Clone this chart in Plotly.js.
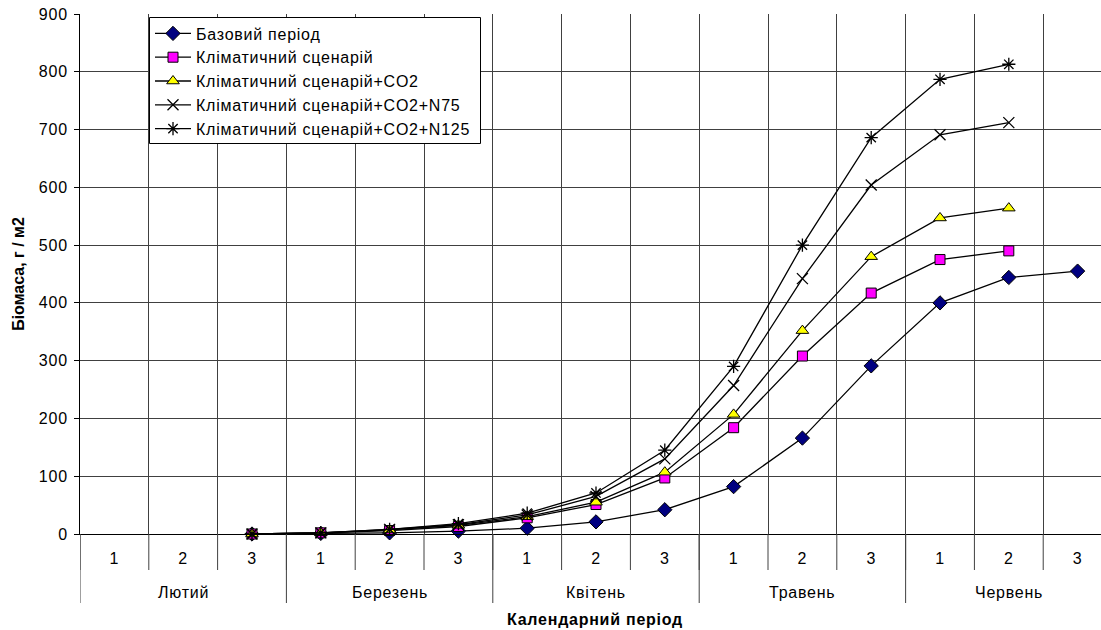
<!DOCTYPE html>
<html>
<head>
<meta charset="utf-8">
<script src="https://cdn.plot.ly/plotly-3.0.1.min.js"></script>
<style>
html,body{margin:0;padding:0;overflow:hidden;background:#fff;}
#chart{width:1101px;height:630px;}
svg text{letter-spacing:0.75px;}
svg text.ytitle{letter-spacing:0px;}
</style>
</head>
<body>
<div id="chart"></div>
<script>
// ---- data ----
const monthNames = ["Лютий","Березень","Квітень","Травень","Червень"];
const decadeLabels = ["1","2","3"];
const seriesNames = ["Базовий період","Кліматичний сценарій","Кліматичний сценарій+CO2","Кліматичний сценарій+CO2+N75","Кліматичний сценарій+CO2+N125"];
const baseVals   = [null,null,0,1,2,5,10,21,42,82,166,291,400,444,455];
const climVals   = [null,null,0,2,6,13,28,51,97,184,308,417,475,490,null];
const co2Vals    = [null,null,0,2,7,15,30,55,107,207,352,480,547,564,null];
const n75Vals    = [null,null,0,2,8,16,33,65,130,257,442,604,691,712,null];
const n125Vals   = [null,null,0,2,8,18,36,71,145,290,500,686,787,813,null];

// categories built from months x decades
const cats = [], tickText = [];
monthNames.forEach(m => decadeLabels.forEach(d => { cats.push(m + " " + d); tickText.push(d); }));

const FONT = "Liberation Sans, Arial, sans-serif";
const FS = 16;
const markers = [
  {symbol:"diamond", size:11, color:"#000080", line:{color:"#000000", width:1}},
  {symbol:"square", size:10, color:"#FF00FF", line:{color:"#000000", width:1}},
  {symbol:"triangle-up", size:11, color:"#FFFF00", line:{color:"#000000", width:1}},
  {symbol:"x-thin-open", size:11, color:"#000000", line:{color:"#000000", width:1.3}},
  {symbol:"asterisk-open", size:11, color:"#000000", line:{color:"#000000", width:1.3}}
];
const allVals = [baseVals, climVals, co2Vals, n75Vals, n125Vals];

const traces = allVals.map((v,i)=>({
  type:"scatter",
  mode:"lines+markers",
  name: seriesNames[i],
  legendgroup: "g"+i,
  x: cats,
  y: v,
  line:{color:"#000000", width:1.3},
  marker: markers[i],
  connectgaps:false,
  cliponaxis:false
}));

// month dividers, decade ticks & month labels (axis decoration on category scale)
const nDec = decadeLabels.length;
const topPx = 14, bottomPx = 96, plotH = 630 - topPx - bottomPx, plotW = 1101 - 80;
const shapes = [], annotations = [];
cats.forEach((c, i) => {
  shapes.push({type:"line", xref:"x", yref:"paper", x0:i-0.5, x1:i-0.5,
               y0:0, y1:-(36/plotH), line:{color:"#404040", width:1}});
});
monthNames.forEach((m, k) => {
  shapes.push({type:"line", xref:"x", yref:"paper", x0:k*nDec-0.5, x1:k*nDec-0.5,
               y0:0, y1:-(69/plotH), line:{color:"#404040", width:1}});
  annotations.push({xref:"x", yref:"paper", x:k*nDec + (nDec-1)/2, y:-(58/plotH),
                    yanchor:"middle", xanchor:"center", showarrow:false, text:m,
                    font:{family:FONT, size:FS, color:"#000000"}});
});
annotations.push({xref:"paper", yref:"paper", x:(595-80)/plotW, y:-(85/plotH),
                  yanchor:"middle", xanchor:"center", showarrow:false,
                  text:"<b>Календарний період</b>",
                  font:{family:FONT, size:16, color:"#000000"}});
// legend frame
shapes.push({type:"rect", xref:"paper", yref:"paper", layer:"above",
             x0:(149.5-80)/plotW, x1:(480.5-80)/plotW,
             y0:(534-143.5)/plotH, y1:(534-17.5)/plotH,
             fillcolor:"#ffffff", line:{color:"#000000", width:1}});

const layout = {
  width:1101, height:630,
  margin:{l:80, r:0, t:topPx, b:bottomPx},
  paper_bgcolor:"#ffffff",
  plot_bgcolor:"#ffffff",
  font:{family:FONT, size:FS, color:"#000000"},
  showlegend:true,
  legend:{
    x:(150-80)/plotW, y:(534-16.5)/plotH, xanchor:"left", yanchor:"top",
    bgcolor:"rgba(0,0,0,0)", borderwidth:0,
    font:{family:FONT, size:FS, color:"#000000"},
    tracegroupgap:5.7,
    itemwidth:36,
    traceorder:"normal"
  },
  shapes: shapes,
  annotations: annotations,
  xaxis:{
    type:"category",
    categoryorder:"array", categoryarray:cats,
    tickvals:cats, ticktext:tickText,
    range:[-0.5, 14.34],
    showgrid:true, gridcolor:"#404040", gridwidth:1,
    tickson:"boundaries",
    ticks:"",
    showline:true, linecolor:"#000000", linewidth:1,
    tickfont:{family:FONT, size:FS, color:"#000000"},
    ticklabelstandoff:10,
    zeroline:false,
    automargin:false
  },
  yaxis:{
    range:[0,900], dtick:100,
    showgrid:true, gridcolor:"#404040", gridwidth:1,
    ticks:"outside", ticklen:5, tickcolor:"#000000",
    ticklabelstandoff:3,
    showline:true, linecolor:"#000000", linewidth:1,
    zeroline:true, zerolinecolor:"#000000", zerolinewidth:1,
    tickfont:{family:FONT, size:FS, color:"#000000"},
    automargin:false,
    title:{text:"Біомаса, г / м2", font:{family:FONT, size:16, color:"#000000", weight:"bold"}, standoff:10}
  }
};

Plotly.newPlot("chart", traces, layout, {displayModeBar:false, staticPlot:true});
</script>
</body>
</html>
